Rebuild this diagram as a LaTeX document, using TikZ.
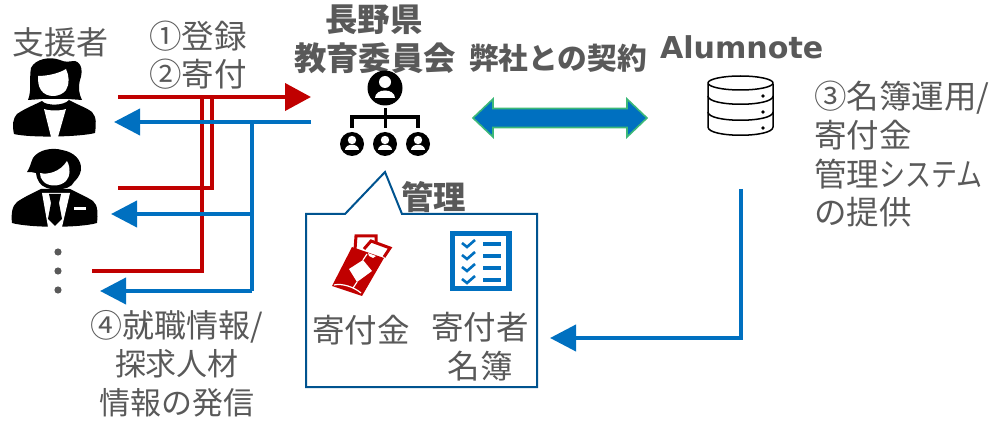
\documentclass[tikz,border=0pt]{standalone}
\usepackage{fontspec}
\usetikzlibrary{arrows.meta}
\setmainfont{Noto Sans CJK JP}
\newfontfamily\latinbold{DejaVu Sans}
\definecolor{txtgray}{HTML}{595959}
\definecolor{mred}{HTML}{C00000}
\definecolor{mblue}{HTML}{0070C0}
\definecolor{boxblue}{HTML}{00538F}
\definecolor{mgreen}{HTML}{3CB878}
\tikzset{
  lbl/.style={inner sep=0pt,outer sep=0pt,text=txtgray,font=\fontsize{32.5}{38.8}\selectfont,align=left},
  lblc/.style={lbl,align=center},
  lblb/.style={lbl,align=center,font=\fontsize{32.4}{38.8}\selectfont\bfseries},
  redline/.style={draw=mred,line width=4pt,line join=miter},
  blueline/.style={draw=mblue,line width=4pt,line join=miter},
  redarrow/.style={redline,-{Triangle[length=26pt,width=27pt,fill=mred]}},
  bluearrow/.style={blueline,-{Triangle[length=26pt,width=26pt,fill=mblue]}},
  iconline/.style={draw=black,line width=3pt},
  dbline/.style={draw=black,line width=1.5pt},
}
\begin{document}
\begin{tikzpicture}[x=1pt,y=-1pt]
\useasboundingbox (0,0) rectangle (989,422);
% ---------- anchors
\coordinate (regstart) at (118,97);
\coordinate (regend) at (311,97);
\coordinate (infostart) at (311,122);
\coordinate (infoend) at (114,122);
\coordinate (r1top) at (212,97);
\coordinate (r1bot) at (212,188);
\coordinate (r1end) at (118,188);
\coordinate (r2top) at (202,97);
\coordinate (r2bot) at (202,271);
\coordinate (r2end) at (92,271);
\coordinate (b0) at (252,122);
\coordinate (b1) at (252,214);
\coordinate (b1end) at (111,214);
\coordinate (b2) at (252,291);
\coordinate (b2end) at (100,291);
\coordinate (sysstart) at (741,189);
\coordinate (sysbend) at (741,338);
\coordinate (sysend) at (550,338);
% ---------- texts
\node[lblc,font=\fontsize{32}{38.8}\selectfont] (supporter) at (60.5,42) {支援者};
\node[lbl,anchor=west] (reg) at (149,36) {①登録};
\node[lbl,anchor=west] (don) at (149,74) {②寄付};
\node[lblb] (board1) at (374,20) {長野県};
\node[lblb] (board2) at (375,58) {教育委員会};
\node[lblb,font=\fontsize{29.7}{36}\selectfont\bfseries] (contract) at (558,58) {弊社との契約};
\node[lbl,anchor=west,font=\fontsize{30.1}{36}\latinbold\bfseries] (alum) at (660,47) {Alumnote};
\node[lbl,anchor=north west] (sys) at (814,81) {③名簿運用/\\寄付金\\管理\scalebox{0.8}[1]{システム}\\の提供};
\node[lblb] (kanri) at (433.5,197) {管理};
\node[lblc] (kifukin) at (361,330) {寄付金};
\node[lblc,anchor=north] (meibo) at (480,312) {寄付者\\名簿};
\node[lblc,anchor=north,font=\fontsize{31}{38.8}\selectfont] (info) at (177,310) {{\fontsize{32}{38.8}\selectfont ④就職情報/}\\探求人材\\情報の発信};
% ---------- connectors
\draw[redarrow] (regstart) -- (regend);
\draw[redline] (r1top) -- (r1bot) -- (r1end);
\draw[redline] (r2top) -- (r2bot) -- (r2end);
\draw[bluearrow] (infostart) -- (infoend);
\draw[blueline] (b0) -- (b2);
\draw[bluearrow] (b1) -- (b1end);
\draw[bluearrow] (b2) -- (b2end);
\draw[bluearrow] (sysstart) -- (sysbend) -- (sysend);
% ---------- contract arrow
\draw[draw=mgreen,fill=mblue,line width=1.6pt,line join=miter]
  (473,118) -- (493,99) -- (493,108.5) -- (627,108.5) -- (627,99) -- (647,118)
  -- (627,137) -- (627,127.5) -- (493,127.5) -- (493,137) -- cycle;
% ---------- callout
\draw[draw=boxblue,line width=2pt,line join=miter]
  (306,214) -- (345,214) -- (385,172) -- (402,214) -- (537,214) -- (537,387) -- (306,387) -- cycle;
% ---------- dots
\foreach \yy in {252,271,290} \fill[txtgray] (58,\yy) circle (3.6);
% ---------- woman
\fill[black] (28,100) .. controls (32,90) and (29,78) .. (31,68)
  .. controls (35,59) and (50,56) .. (60,60) .. controls (66,63) and (70,61) .. (75,61)
  .. controls (82,63) and (83,72) .. (80,80) .. controls (78,88) and (79,94) .. (82,100)
  -- (68,99) -- (42,99) -- cycle;
\fill[white] (38,76) .. controls (46,76) and (58,74) .. (66,69)
  .. controls (69,75) and (70,84) .. (66,90) .. controls (60,98) and (46,98) .. (41,90)
  .. controls (38,86) and (38,80) .. (38,76) -- cycle;
\fill[white] (40,100) -- (70,100) -- (70,103) -- (40,103) -- cycle;
\fill[black] (14,134) .. controls (12,125) and (13,118) .. (17,114) .. controls (24,109) and (34,105) .. (42,101)
  .. controls (46,106) and (64,106) .. (69,100) .. controls (78,105) and (87,108) .. (92,112)
  .. controls (97,117) and (96,126) .. (95,133) .. controls (80,137) and (30,138) .. (14,134) -- cycle;
\fill[white] (44,109) .. controls (50,111) and (60,111) .. (66,109) -- (58,137) -- (51,137) -- cycle;
% ---------- man
\fill[black] (27,172) .. controls (30,168) and (31,162) .. (33,158) .. controls (38,150) and (52,147) .. (62,150)
  .. controls (74,152) and (82,160) .. (81,170) .. controls (80,176) and (76,180) .. (74,182)
  .. controls (70,192) and (44,192) .. (39,182) .. controls (37,178) and (36,176) .. (36,173)
  .. controls (33,172) and (30,172) .. (27,172) -- cycle;
\fill[white] (40,173) .. controls (48,175) and (60,172) .. (67,161)
  .. controls (71,168) and (70,177) .. (66,181) .. controls (60,187) and (48,187) .. (43,181)
  .. controls (41,179) and (40,176) .. (40,173) -- cycle;
\fill[black] (12,223) .. controls (11,214) and (12,206) .. (17,202) .. controls (24,197) and (33,193) .. (41,189)
  -- (70,189) .. controls (78,193) and (87,197) .. (93,201) .. controls (98,205) and (98,214) .. (97,223)
  .. controls (80,228) and (30,228) .. (12,223) -- cycle;
\fill[white] (42,193) -- (70,193) -- (62,227) -- (48,227) -- cycle;
\fill[black] (49,194) -- (61,194) -- (59,203) -- (62,219) -- (55,226) -- (48,219) -- (51,203) -- cycle;
\fill[white] (74,207.5) -- (86,207.5) -- (86,210) -- (74,210) -- cycle;
% ---------- org chart
\fill[black] (385,88) circle (17.5);
\fill[white] (385,82) circle (6);
\fill[white] (375,98) .. controls (375,88) and (395,88) .. (395,98) -- cycle;
\foreach \xx in {352,385,418} {
  \fill[black] (\xx,144) circle (12);
  \fill[white] (\xx,140) circle (4.2);
  \fill[white] (\xx-7,150) .. controls (\xx-7,143) and (\xx+7,143) .. (\xx+7,150) -- cycle;
}
\draw[iconline] (385,108) -- (385,128);
\draw[iconline,line width=3.5pt,line join=miter] (352,128) -- (352,117) -- (418,117) -- (418,128);
% ---------- database
\draw[dbline,fill=white] (708,84) -- (708,127) .. controls (708,138) and (773,138) .. (773,127) -- (773,84);
\draw[dbline] (740.5,83) ellipse (32.5 and 7);
\draw[dbline] (708,96) .. controls (708,107) and (773,107) .. (773,96);
\draw[dbline] (708,112) .. controls (708,123) and (773,123) .. (773,112);
\foreach \yy in {96,112,128} \fill[black] (763,\yy) circle (1.8);
% ---------- envelope
\draw[mred,line width=3pt] (355,250) -- (356,236) -- (376,236) -- (376,242);
\fill[white] (368,240) -- (391,247) -- (383,258) -- (361,250) -- cycle;
\draw[mred,line width=3pt,line join=miter] (364,249) -- (371,241) -- (390,248) -- (384,257);
\fill[mred] (352,247) -- (384,258) -- (362,296) -- (332,286) -- cycle;
\fill[white] (368,253) -- (376,256) -- (373,258) -- (369,256) -- cycle;
\fill[white] (349,269) -- (363,260) -- (372,271) -- (357,282) -- cycle;
\draw[white,line width=1.2pt] (363,260) -- (367,254) (357,282) -- (353,288);
\draw[white,line width=1.2pt] (334,285) .. controls (342,283) and (354,287) .. (361,293);
% ---------- checklist
\draw[mblue,line width=5.5pt,line join=miter] (452.5,233.5) rectangle (509,288.5);
\foreach \yy in {244,256,268,280} {
  \fill[mblue] (483,\yy-2) rectangle (501,\yy+2);
  \draw[mblue,line width=2.6pt] (462,\yy-1) -- (467,\yy+3) -- (475,\yy-4);
}
\end{tikzpicture}
\end{document}
